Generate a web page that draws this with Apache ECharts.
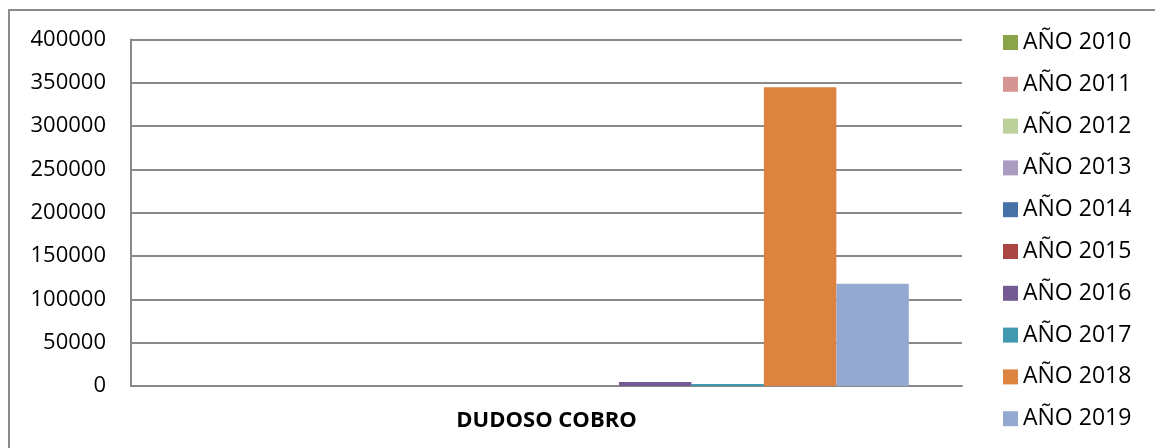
<!DOCTYPE html>
<html>
<head>
<meta charset="utf-8">
<script src="https://cdn.jsdelivr.net/npm/echarts@6/dist/echarts.min.js"></script>
<style>
html,body{margin:0;padding:0;background:#fff;}
#c{width:1155px;height:448px;}
</style>
</head>
<body>
<div id="c"></div>
<script>
var categories = ['DUDOSO COBRO'];
var seriesNames = ['AÑO 2010','AÑO 2011','AÑO 2012','AÑO 2013','AÑO 2014','AÑO 2015','AÑO 2016','AÑO 2017','AÑO 2018','AÑO 2019'];
var seriesValues = [0, 0, 0, 0, 0, 0, 4500, 2200, 345000, 118000];
var colors = ['#8BA448','#D59593','#BBD09A','#AB9DC2','#4672A8','#A94543','#745A92','#4298AF','#DC843F','#94A9D0'];

var font = '"Open Sans", sans-serif';
var chart = echarts.init(document.getElementById('c'));
var series = seriesNames.map(function(n, i){
  return {
    name: n, type: 'bar', data: [seriesValues[i]],
    itemStyle: {color: colors[i]},
    barGap: '0%', barCategoryGap: '12.8%'
  };
});
chart.setOption({
  animation: false,
  textStyle: {fontFamily: font},
  graphic: [{
    type: 'rect', shape: {x: 9, y: 10, width: 1160, height: 460},
    style: {fill: 'none', stroke: '#8c8c8c', lineWidth: 2}, silent: true, z: -1
  }],
  grid: {left: 131, right: 193, top: 39.5, bottom: 62},
  legend: {
    orient: 'vertical', left: 998, top: 26,
    itemWidth: 15, itemHeight: 15, itemGap: 18.8, icon: 'rect',
    textStyle: {fontFamily: font, fontSize: 23, color: '#000', lineHeight: 22, padding: [0,0,0,0]},
    data: seriesNames
  },
  xAxis: {
    type: 'category', data: categories,
    axisLine: {lineStyle: {color: '#888', width: 2}},
    axisTick: {show: false},
    axisLabel: {fontFamily: font, fontSize: 22, fontWeight: 'bold', color: '#000', margin: 24}
  },
  yAxis: {
    type: 'value', min: 0, max: 400000, interval: 50000,
    axisLine: {show: true, lineStyle: {color: '#888', width: 2}},
    axisTick: {show: false},
    splitLine: {lineStyle: {color: '#8a8a8a', width: 2}},
    axisLabel: {fontFamily: font, fontSize: 22, color: '#000', margin: 25,
      formatter: function(v){ return String(v); }}
  },
  series: series
});
</script>
</body>
</html>
